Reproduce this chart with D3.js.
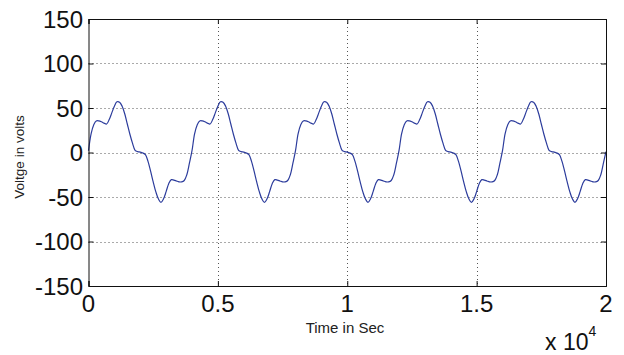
<!DOCTYPE html>
<html>
<head>
<meta charset="utf-8">
<script src="https://cdn.jsdelivr.net/npm/d3@7.9.0/dist/d3.min.js"></script>
<style>
  body { margin: 0; background: #fff; }
  svg { display: block; font-family: "Liberation Sans", Arial, sans-serif; }
</style>
</head>
<body>
<svg width="624" height="355"></svg>
<script>
// values (time in samples, voltage in volts)
const xTicks = [0, 5000, 10000, 15000, 20000];
const xTickLabels = ['0', '0.5', '1', '1.5', '2'];
const yTicks = [-150, -100, -50, 0, 50, 100, 150];

// one sample every 100 time units, 5 cycles of about 4000
const timeSamples = d3.range(0, 20001, 100);
const voltage = [
  2, 21, 31, 35.5, 35.5, 34.5, 33, 32, 37, 44.5, 52, 57, 56.5, 52, 43.5, 32, 20.5, 10.5, 2.5, 1,
  0.5, -0.5, -2.5, -10, -21, -33, -44, -52, -56, -52, -44, -35, -30.5, -31, -32, -33, -33, -31.5, -25, -12,
  2, 21, 31, 35.5, 35.5, 34.5, 33, 32, 37, 44.5, 52, 57, 56.5, 52, 43.5, 32, 20.5, 10.5, 2.5, 1,
  0.5, -0.5, -2.5, -10, -21, -33, -44, -52, -56, -52, -44, -35, -30.5, -31, -32, -33, -33, -31.5, -25, -12,
  2, 21, 31, 35.5, 35.5, 34.5, 33, 32, 37, 44.5, 52, 57, 56.5, 52, 43.5, 32, 20.5, 10.5, 2.5, 1,
  0.5, -0.5, -2.5, -10, -21, -33, -44, -52, -56, -52, -44, -35, -30.5, -31, -32, -33, -33, -31.5, -25, -12,
  2, 21, 31, 35.5, 35.5, 34.5, 33, 32, 37, 44.5, 52, 57, 56.5, 52, 43.5, 32, 20.5, 10.5, 2.5, 1,
  0.5, -0.5, -2.5, -10, -21, -33, -44, -52, -56, -52, -44, -35, -30.5, -31, -32, -33, -33, -31.5, -25, -12,
  2, 21, 31, 35.5, 35.5, 34.5, 33, 32, 37, 44.5, 52, 57, 56.5, 52, 43.5, 32, 20.5, 10.5, 2.5, 1,
  0.5, -0.5, -2.5, -10, -21, -33, -44, -52, -56, -52, -44, -35, -30.5, -31, -32, -33, -33, -31.5, -25, -12,
  1
];

const plotLeft = 88.5, plotRight = 606, plotTop = 19, plotBottom = 286;

const svg = d3.select('svg');

const x = d3.scaleLinear().domain([0, 20000]).range([plotLeft, plotRight]);
const y = d3.scaleLinear().domain([-150, 150]).range([plotBottom, plotTop]);

// dotted grid
svg.append('g')
  .selectAll('line')
  .data(xTicks.slice(1, -1))
  .join('line')
  .attr('x1', d => Math.round(x(d)) + 0.5).attr('x2', d => Math.round(x(d)) + 0.5)
  .attr('y1', plotTop).attr('y2', plotBottom)
  .attr('stroke', '#555').attr('stroke-dasharray', '1,3');

svg.append('g')
  .selectAll('line')
  .data(yTicks.slice(1, -1))
  .join('line')
  .attr('x1', plotLeft).attr('x2', plotRight)
  .attr('y1', d => Math.round(y(d)) + 0.5).attr('y2', d => Math.round(y(d)) + 0.5)
  .attr('stroke', '#555').attr('stroke-dasharray', '1,3');

// the signal
const line = d3.line()
  .x((d, i) => x(timeSamples[i]))
  .y(d => y(d))
  .curve(d3.curveCatmullRom);

svg.append('path')
  .datum(voltage)
  .attr('d', line)
  .attr('fill', 'none')
  .attr('stroke', '#2c3c9c')
  .attr('stroke-width', 1.2);

// axes, ticks inside like matlab
const xAxisBottom = d3.axisBottom(x).tickValues(xTicks).tickSize(-5).tickFormat('');
const xAxisTop = d3.axisTop(x).tickValues(xTicks).tickSize(-5).tickFormat('');
const yAxisLeft = d3.axisLeft(y).tickValues(yTicks).tickSize(-5).tickFormat('');
const yAxisRight = d3.axisRight(y).tickValues(yTicks).tickSize(-5).tickFormat('');

svg.append('g').attr('transform', `translate(0,${plotBottom})`).call(xAxisBottom);
svg.append('g').attr('transform', `translate(0,${plotTop})`).call(xAxisTop);
svg.append('g').attr('transform', `translate(${plotLeft},0)`).call(yAxisLeft);
svg.append('g').attr('transform', `translate(${plotRight},0)`).call(yAxisRight);

svg.selectAll('.domain').attr('stroke', '#111');
svg.selectAll('.tick line').attr('stroke', '#111');

// tick labels
svg.append('g')
  .selectAll('text')
  .data(xTicks)
  .join('text')
  .attr('x', d => x(d))
  .attr('y', 312)
  .attr('text-anchor', 'middle')
  .attr('font-size', 24)
  .attr('fill', '#111')
  .text((d, i) => xTickLabels[i]);

svg.append('g')
  .selectAll('text')
  .data(yTicks)
  .join('text')
  .attr('x', 83)
  .attr('y', d => y(d))
  .attr('dy', '0.36em')
  .attr('text-anchor', 'end')
  .attr('font-size', 24)
  .attr('fill', '#111')
  .text(d => d);

// exponent
const expo = svg.append('text')
  .attr('x', 545)
  .attr('y', 350)
  .attr('font-size', 23)
  .attr('fill', '#111');
expo.append('tspan').text('x 10');
expo.append('tspan').attr('dy', -14).attr('font-size', 14).text('4');

// axis titles
svg.append('text')
  .attr('x', 345)
  .attr('y', 333)
  .attr('text-anchor', 'middle')
  .attr('font-size', 15)
  .attr('fill', '#222')
  .text('Time in Sec');

svg.append('text')
  .attr('transform', 'translate(24,157) rotate(-90)')
  .attr('text-anchor', 'middle')
  .attr('font-size', 13.5)
  .attr('fill', '#222')
  .text('Voltge in volts');
</script>
</body>
</html>
